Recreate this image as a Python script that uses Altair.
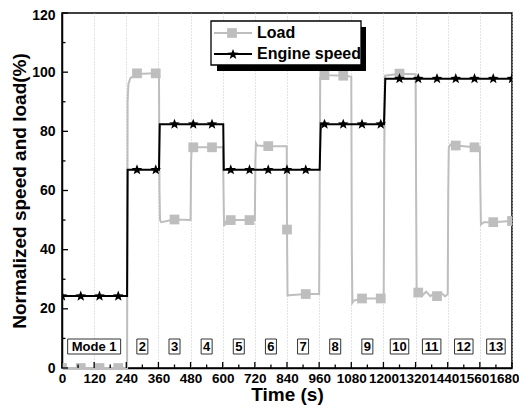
import altair as alt
import pandas as pd

# ---------------- data ----------------
speed_t = [0, 243, 245, 362, 365, 602, 604, 962, 966, 1202, 1207, 1680]
speed_v = [24.3, 24.3, 67.0, 67.0, 82.4, 82.4, 67.0, 67.0, 82.4, 82.4, 97.8, 97.8]

load_t = [0, 243, 245, 248, 255, 280, 350, 362, 364, 366, 370, 420, 480, 482, 484, 490, 560,
          601, 603, 605, 612, 630, 700, 720, 722, 724, 730, 770, 839, 840, 842, 848, 910, 960,
          962, 964, 975, 980, 1050, 1080, 1082, 1084, 1090, 1120, 1190, 1201, 1203, 1206, 1260,
          1320, 1322, 1324, 1330, 1345, 1360, 1375, 1390, 1400, 1415, 1430, 1440, 1442, 1444,
          1450, 1470, 1540, 1560, 1562, 1564, 1575, 1610, 1650, 1680]
load_v = [0, 0, 90, 96, 98, 99.4, 99.6, 99.6, 60, 50, 49.3, 50.2, 50, 70, 74.3, 74.6, 74.6,
          74.6, 60, 48, 49.5, 50, 50, 50, 70, 76, 75.2, 75, 75, 46.8, 24.5, 24.6, 25, 25,
          60, 98, 99.3, 99, 98.8, 98.5, 40, 22, 22.8, 23.5, 23.5, 23.5, 70, 98.8, 99.5,
          99.3, 60, 26, 25.5, 24.5, 25.8, 24.3, 25.2, 24.3, 25.5, 24.2, 25, 60, 74.5,
          75.5, 75.2, 74.6, 74.6, 60, 48.5, 49.3, 49.3, 49.5, 49.7]

marker_t = [0, 70, 140, 210, 280, 350, 420, 490, 560, 630, 700, 770, 840, 910, 980, 1050,
            1120, 1190, 1260, 1330, 1400, 1470, 1540, 1610, 1680]
speed_marker_v = [24.3, 24.3, 24.3, 24.3, 67, 67, 82.4, 82.4, 82.4, 67, 67, 67, 67, 67,
                  82.4, 82.4, 82.4, 82.4, 97.8, 97.8, 97.8, 97.8, 97.8, 97.8, 97.8]
load_marker_v = [0, 0, 0, 0, 99.6, 99.6, 50.2, 74.6, 74.6, 50, 50, 75, 46.8, 25, 99, 98.8,
                 23.5, 23.5, 99.5, 25.5, 24.3, 75.2, 74.6, 49.3, 49.7]

mode_labels = ["Mode 1", "2", "3", "4", "5", "6", "7", "8", "9", "10", "11", "12", "13"]
mode_centers = [120, 300, 420, 540, 660, 780, 900, 1020, 1140, 1260, 1380, 1500, 1620]

x_major = list(range(0, 1681, 120))
x_minor = list(range(60, 1681, 120))
y_major = [0, 20, 40, 60, 80, 100, 120]
y_minor = [10, 30, 50, 70, 90, 110]

legend_labels = ["Load", "Engine speed"]

# ---------------- styling ----------------
FONT = "Liberation Sans"
GRAY = "#BEBEBE"
W, H = 450, 355
STAR = ("M0,-1L0.247,-0.34L0.951,-0.309L0.399,0.13L0.588,0.809L0,0.42"
        "L-0.588,0.809L-0.399,0.13L-0.951,-0.309L-0.247,-0.34Z")

# nudge the crowded right-most tick labels left so they stay inside the page
x_label_offset = {
    "condition": [
        {"test": "datum.value == 1680", "value": -8},
        {"test": "datum.value == 1560", "value": -6},
        {"test": "datum.value == 1440", "value": -4},
        {"test": "datum.value == 1320", "value": -2},
    ],
    "value": 0,
}
y_label_offset = {"condition": {"test": "datum.value == 120", "value": 2}, "value": 0}

xenc = alt.X("t:Q",
             scale=alt.Scale(domain=[0, 1680], nice=False, zero=False),
             axis=alt.Axis(title="Time (s)", values=x_major, format="d", grid=True,
                           gridDash=[1, 2], gridColor="#c4c4c4", gridWidth=1, ticks=False,
                           tickSize=0, labelPadding=3, labelFontSize=13.5, labelOverlap=False,
                           labelFlush=False, labelOffset=x_label_offset, titleFontSize=19,
                           titlePadding=1))
yenc = alt.Y("v:Q",
             scale=alt.Scale(domain=[0, 120], nice=False),
             axis=alt.Axis(title="Normalized speed and load(%)", values=y_major, grid=False,
                           ticks=False, tickSize=0, labelPadding=7, labelFontSize=14,
                           labelOffset=y_label_offset, labelFlush=False,
                           titleFontSize=19, titlePadding=2))

speed_df = pd.DataFrame({"t": speed_t, "v": speed_v})
load_df = pd.DataFrame({"t": load_t, "v": load_v})
speed_pts = pd.DataFrame({"t": marker_t, "v": speed_marker_v})
load_pts = pd.DataFrame({"t": marker_t, "v": load_marker_v})

load_line = alt.Chart(load_df).mark_line(color=GRAY, strokeWidth=2).encode(x=xenc, y=yenc)
load_sq = alt.Chart(load_pts).mark_point(shape="square", filled=True, color=GRAY, size=95,
                                         opacity=1, clip=True).encode(x=xenc, y=yenc)
speed_line = alt.Chart(speed_df).mark_line(color="black", strokeWidth=2).encode(x=xenc, y=yenc)
speed_st = alt.Chart(speed_pts).mark_point(shape=STAR, filled=True, color="black", size=125,
                                           opacity=1, clip=True).encode(x=xenc, y=yenc)

# inward tick marks
xt_major = alt.Chart(pd.DataFrame({"t": x_major})).mark_rule(color="black", strokeWidth=1.3).encode(
    x=xenc, y=alt.value(H), y2=alt.value(H - 6))
xt_minor = alt.Chart(pd.DataFrame({"t": x_minor})).mark_rule(color="black", strokeWidth=1.3).encode(
    x=xenc, y=alt.value(H), y2=alt.value(H - 3.5))
yt_major = alt.Chart(pd.DataFrame({"v": y_major})).mark_rule(color="black", strokeWidth=1.3).encode(
    y=yenc, x=alt.value(0), x2=alt.value(6))
yt_minor = alt.Chart(pd.DataFrame({"v": y_minor})).mark_rule(color="black", strokeWidth=1.3).encode(
    y=yenc, x=alt.value(0), x2=alt.value(3.5))

# mode label boxes
px_per_s = W / 1680.0
box_w = [{1: 11, 2: 18.5}.get(len(s), 53) for s in mode_labels]
box_df = pd.DataFrame({
    "t": [c - w / 2 / px_per_s for c, w in zip(mode_centers, box_w)],
    "t2": [c + w / 2 / px_per_s for c, w in zip(mode_centers, box_w)],
})
boxes = alt.Chart(box_df).mark_rect(fill="white", stroke="#333333", strokeWidth=1).encode(
    x=xenc, x2=alt.X2("t2"), y=alt.value(326), y2=alt.value(341))
mode_txt = alt.Chart(pd.DataFrame({"t": mode_centers, "lbl": mode_labels})).mark_text(
    font=FONT, fontWeight="bold", fontSize=13, baseline="middle", align="center", color="black"
).encode(x=xenc, y=alt.value(334), text="lbl:N")

# legend (drawn by hand to get the drop shadow)
one = pd.DataFrame({"k": [0]})
leg = [
    alt.Chart(one).mark_rect(fill="black").encode(
        x=alt.value(155), x2=alt.value(304), y=alt.value(14), y2=alt.value(58)),
    alt.Chart(one).mark_rect(fill="white", stroke="black", strokeWidth=1.3).encode(
        x=alt.value(149), x2=alt.value(299), y=alt.value(8), y2=alt.value(52)),
    alt.Chart(one).mark_rule(color=GRAY, strokeWidth=2).encode(
        x=alt.value(152), x2=alt.value(190), y=alt.value(20)),
    alt.Chart(one).mark_point(shape="square", filled=True, color=GRAY, size=95, opacity=1).encode(
        x=alt.value(170), y=alt.value(20)),
    alt.Chart(one).mark_rule(color="black", strokeWidth=2).encode(
        x=alt.value(152), x2=alt.value(190), y=alt.value(41)),
    alt.Chart(one).mark_point(shape=STAR, filled=True, color="black", size=125, opacity=1).encode(
        x=alt.value(171), y=alt.value(41.5)),
    alt.Chart(one).mark_text(text=legend_labels[0], font=FONT, fontWeight="bold", fontSize=16,
                             align="left", baseline="middle", color="black").encode(
        x=alt.value(195), y=alt.value(20)),
    alt.Chart(one).mark_text(text=legend_labels[1], font=FONT, fontWeight="bold", fontSize=16,
                             align="left", baseline="middle", color="black").encode(
        x=alt.value(195), y=alt.value(41)),
]

chart = alt.layer(
    load_line, load_sq, speed_line, speed_st,
    xt_major, xt_minor, yt_major, yt_minor,
    boxes, mode_txt, *leg
).properties(
    width=W, height=H,
    autosize=alt.AutoSizeParams(type="none"),
    padding={"left": 54, "top": 5, "right": 7, "bottom": 40},
).configure_axis(
    labelFont=FONT, titleFont=FONT, labelFontWeight="bold", titleFontWeight="bold",
    labelColor="black", titleColor="black", domainColor="black", domainWidth=1.5,
).configure_view(stroke="black", strokeWidth=1.5)

chart.save("out.html", embed_options={"renderer": "svg", "actions": False})
